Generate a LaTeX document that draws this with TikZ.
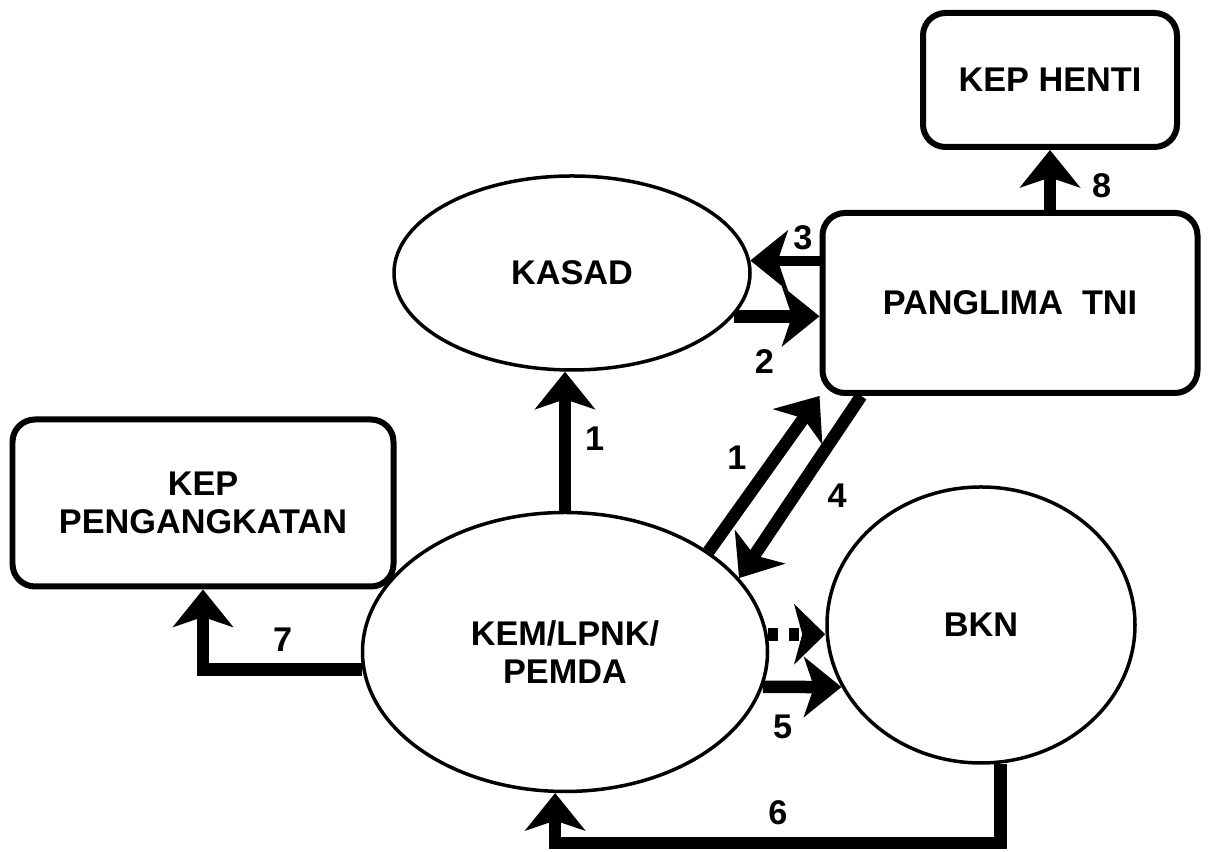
\documentclass[tikz,border=0pt]{standalone}
\usepackage{fontspec}
\setmainfont{Liberation Sans}
\usepackage{tikz}
\usetikzlibrary{shapes.geometric, arrows.meta}

\begin{document}
\begin{tikzpicture}[
    every node/.style={font=\fontsize{19.5}{22}\selectfont\bfseries},
    box/.style={draw, line width=0.12cm, rounded corners=0.45cm, align=center},
    oval/.style={draw, ellipse, line width=0.07cm, inner sep=0pt, align=center},
    arr/.style={line width=0.25cm, -{Stealth[length=0.75cm, width=1.2cm, inset=0.2cm]}},
    dasharr/.style={line width=0.25cm, dash pattern=on 0.2cm off 0.22cm,
      -{Stealth[length=0.62cm, width=1.2cm, inset=0.16cm]}},
  ]
  \useasboundingbox (0,0) rectangle (24.32,17.04);

  \node[box, minimum width=5.08cm, minimum height=2.68cm] (henti) at (21.0,15.44) {KEP HENTI};
  \node[box, minimum width=7.5cm, minimum height=3.6cm] (panglima) at (20.2,10.98) {PANGLIMA\ \ TNI};
  \node[oval, minimum width=7.12cm, minimum height=3.88cm] (kasad) at (11.44,11.58) {KASAD};
  \node[box, minimum width=7.62cm, minimum height=3.34cm] (kepang) at (4.06,6.98) {KEP\\PENGANGKATAN};
  \node[oval, minimum width=8.1cm, minimum height=5.58cm] (kem) at (11.3,4.0) {KEM/LPNK/\\PEMDA};
  \node[oval, minimum width=6.16cm, minimum height=5.52cm] (bkn) at (19.62,4.54) {BKN};

  \coordinate (low) at (0,0.18);

  \draw[arr] (kem.north) -- node[pos=0.52, right=0.16cm] {1} (kem.north |- kasad.south);
  \draw[arr] (kasad.-15) -- node[pos=0.36, below=0.42cm] {2} (kasad.-15 -| panglima.west);
  \draw[arr, line width=0.2cm] (kasad.4 -| panglima.west) -- node[pos=0.24, above] {3} (kasad.4);
  \draw[arr] (kem.35) -- node[pos=0.6, left=0.33cm] {1} (panglima.south west);
  \draw[arr] (panglima.-148) -- node[pos=0.55, right=0.43cm] {4} (kem.23);
  \draw[dasharr] (kem.5.7) -- (kem.5.7 -| bkn.west);
  \draw[arr] (kem.-10) -- node[pos=0.25, below=0.32cm] {5} (bkn.204);
  \draw[arr] (bkn.-82) -- (bkn.-82 |- low) -| node[pos=0.25, above=0.12cm] {6} (kem.-94);
  \draw[arr] (kem.185) -| node[pos=0.25, above=0.12cm] {7} (kepang.south);
  \draw[arr] (henti.south |- panglima.north) -- node[pos=0.4, right=0.6cm] {8} (henti.south);
\end{tikzpicture}
\end{document}
